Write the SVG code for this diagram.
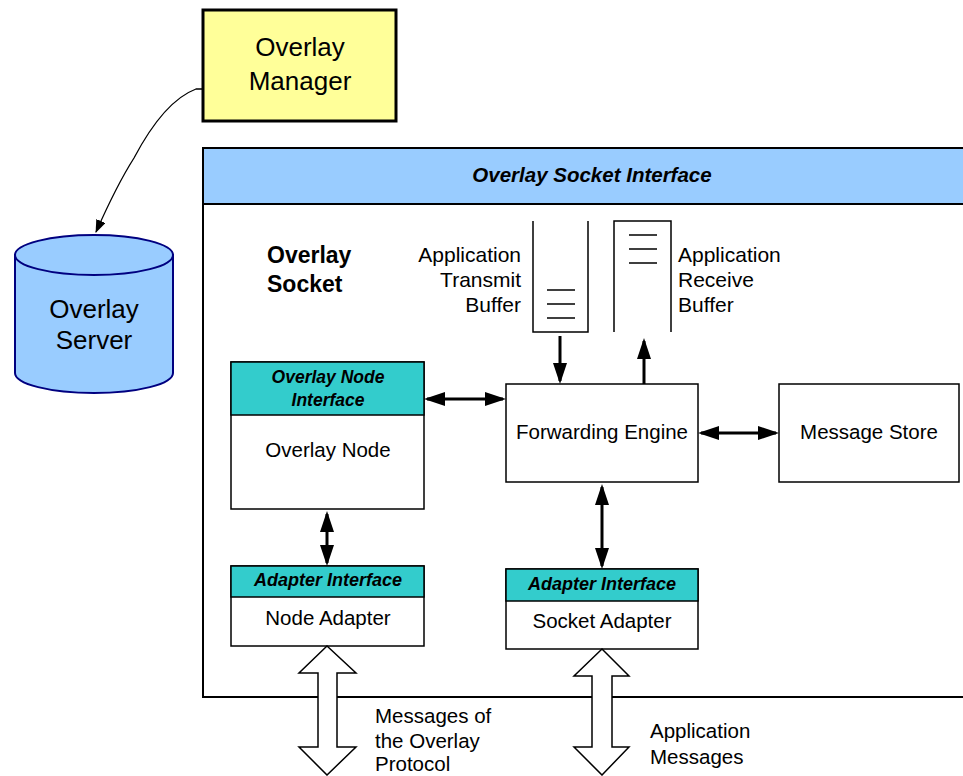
<svg xmlns="http://www.w3.org/2000/svg" width="963" height="776" viewBox="0 0 963 776">
<defs>
<style>
text{font-family:"Liberation Sans",Arial,sans-serif;fill:#000}
.box{fill:#fff;stroke:#000;stroke-width:1.5}
.hdr{fill:#33CCCC;stroke:#000;stroke-width:1.5}
.bi{font-weight:bold;font-style:italic}
.r20{font-size:20.5px}
.conn{stroke:#000;stroke-width:3;fill:none}
.blk{fill:#fff;stroke:#000;stroke-width:1.5}
</style>
<marker id="ah" markerUnits="userSpaceOnUse" markerWidth="22" markerHeight="16" refX="18" refY="7" orient="auto-start-reverse" viewBox="0 0 22 16">
<path d="M0,0 L21,7 L0,14 z" fill="#000"/>
</marker>
<marker id="thin" markerUnits="userSpaceOnUse" markerWidth="14" markerHeight="12" refX="12" refY="5" orient="auto" viewBox="0 0 14 12">
<path d="M0,0 L13,5 L0,10 z" fill="#000"/>
</marker>
</defs>
<rect width="963" height="776" fill="#fff"/>

<g id="overlay-socket">
<rect x="203" y="148" width="780" height="549" fill="#fff" stroke="#000" stroke-width="2"/>
<rect x="203" y="148" width="780" height="56" fill="#99CCFF" stroke="#000" stroke-width="2"/>
<text x="592" y="182" text-anchor="middle" class="bi" font-size="20.5">Overlay Socket Interface</text>
<text x="267" y="263" font-size="23" font-weight="bold">Overlay</text>
<text x="267" y="292" font-size="23" font-weight="bold">Socket</text>
</g>

<g id="overlay-manager">
<rect x="203" y="10" width="193" height="111" fill="#FFFF99" stroke="#000" stroke-width="3"/>
<text x="300" y="56" text-anchor="middle" font-size="26">Overlay</text>
<text x="300" y="90" text-anchor="middle" font-size="26">Manager</text>
</g>

<g id="overlay-server">
<path d="M15,255 L15,373 A79,20 0 0 0 173,373 L173,255 Z" fill="#99CCFF" stroke="#000080" stroke-width="2"/>
<ellipse cx="94" cy="255" rx="79" ry="20" fill="#99CCFF" stroke="#000080" stroke-width="2"/>
<text x="94" y="318" text-anchor="middle" font-size="26">Overlay</text>
<text x="94" y="349" text-anchor="middle" font-size="26">Server</text>
</g>

<g id="transmit-buffer">
<path d="M533,221 L533,332 L588,332 L588,221" fill="none" stroke="#000" stroke-width="1.5"/>
<path d="M547,290 H575 M547,304 H575 M547,318 H575" stroke="#000" stroke-width="1.5"/>
<text x="521" y="262" text-anchor="end" font-size="21">Application</text>
<text x="521" y="287" text-anchor="end" font-size="21">Transmit</text>
<text x="521" y="312" text-anchor="end" font-size="21">Buffer</text>
</g>

<g id="receive-buffer">
<path d="M614,332 L614,221 L671,221 L671,332" fill="none" stroke="#000" stroke-width="1.5"/>
<path d="M629,235 H657 M629,249 H657 M629,263 H657" stroke="#000" stroke-width="1.5"/>
<text x="678" y="262" font-size="21">Application</text>
<text x="678" y="287" font-size="21">Receive</text>
<text x="678" y="312" font-size="21">Buffer</text>
</g>

<g id="overlay-node">
<rect x="231" y="362" width="193" height="147" class="box"/>
<rect x="231" y="362" width="193" height="53" class="hdr"/>
<text x="328" y="383" text-anchor="middle" class="bi" font-size="17.5">Overlay Node</text>
<text x="328" y="406" text-anchor="middle" class="bi" font-size="17.5">Interface</text>
<text x="328" y="457" text-anchor="middle" class="r20">Overlay Node</text>
</g>

<g id="forwarding-engine">
<rect x="506" y="384" width="192" height="98" class="box"/>
<text x="602" y="439" text-anchor="middle" class="r20">Forwarding Engine</text>
</g>

<g id="message-store">
<rect x="779" y="384" width="180" height="98" class="box"/>
<text x="869" y="439" text-anchor="middle" class="r20">Message Store</text>
</g>

<g id="node-adapter">
<rect x="231" y="566" width="193" height="80" class="box"/>
<rect x="231" y="566" width="193" height="31" class="hdr"/>
<text x="328" y="586" text-anchor="middle" class="bi" font-size="18">Adapter Interface</text>
<text x="328" y="625" text-anchor="middle" class="r20">Node Adapter</text>
</g>

<g id="socket-adapter">
<rect x="506" y="569" width="192" height="80" class="box"/>
<rect x="506" y="569" width="192" height="32" class="hdr"/>
<text x="602" y="590" text-anchor="middle" class="bi" font-size="18">Adapter Interface</text>
<text x="602" y="628" text-anchor="middle" class="r20">Socket Adapter</text>
</g>

<g id="connectors">
<path d="M202,89 L196,89 C172,98 152,124 134,158 C120,180 108,205 96,232" fill="none" stroke="#000" stroke-width="1.3" marker-end="url(#thin)"/>
<line x1="560" y1="336" x2="560" y2="381" class="conn" marker-end="url(#ah)"/>
<line x1="644" y1="384" x2="644" y2="341" class="conn" marker-end="url(#ah)"/>
<line x1="427" y1="399" x2="503" y2="399" class="conn" marker-start="url(#ah)" marker-end="url(#ah)"/>
<line x1="701" y1="433" x2="776" y2="433" class="conn" marker-start="url(#ah)" marker-end="url(#ah)"/>
<line x1="327" y1="514" x2="327" y2="563" class="conn" marker-start="url(#ah)" marker-end="url(#ah)"/>
<line x1="602" y1="487" x2="602" y2="566" class="conn" marker-start="url(#ah)" marker-end="url(#ah)"/>
<path class="blk" d="M327,646 L356,673 L337,673 L337,747 L356,747 L327,775 L299,747 L318,747 L318,673 L299,673 Z"/>
<path class="blk" d="M602,649 L629,676 L612,676 L612,747 L629,747 L602,775 L574,747 L592,747 L592,676 L574,676 Z"/>
</g>

<g id="labels">
<text x="375" y="723" class="r20">Messages of</text>
<text x="375" y="748" class="r20">the Overlay</text>
<text x="375" y="771" class="r20">Protocol</text>
<text x="650" y="738" class="r20">Application</text>
<text x="650" y="764" class="r20">Messages</text>
</g>
</svg>
